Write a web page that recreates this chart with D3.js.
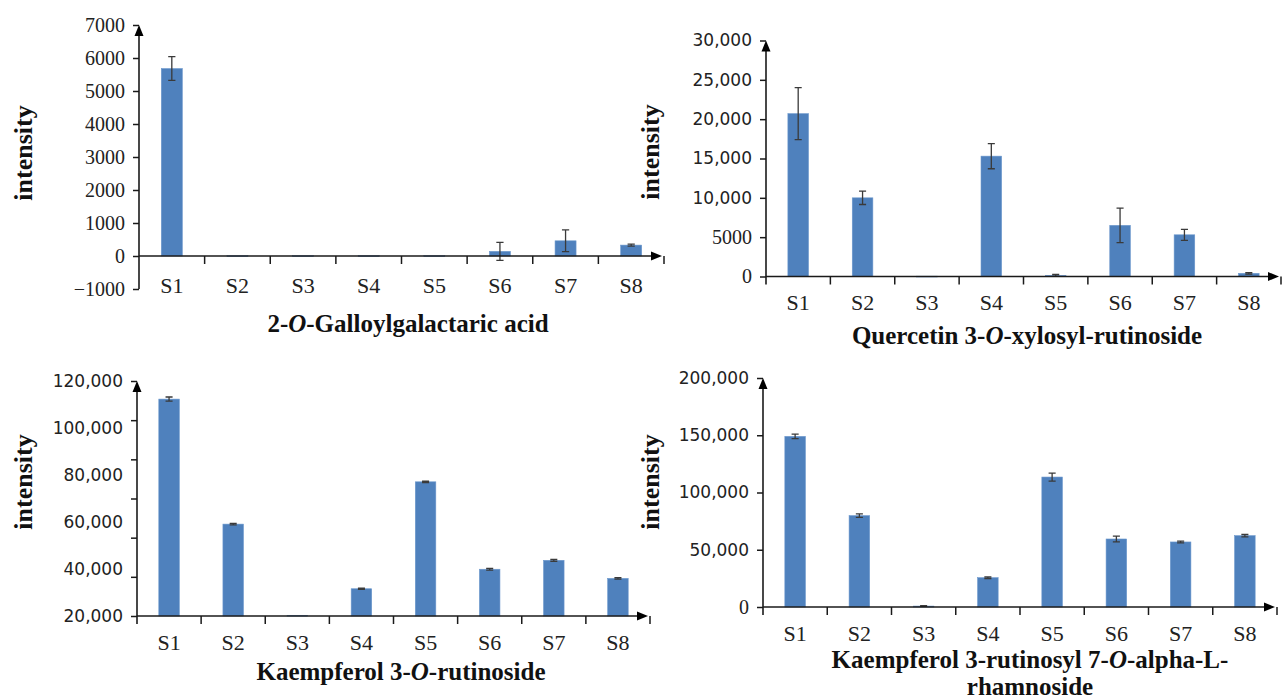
<!DOCTYPE html>
<html><head><meta charset="utf-8">
<script src="https://cdn.jsdelivr.net/npm/d3@7"></script>
<style>body{margin:0;background:#fff}svg{display:block}</style>
</head><body><svg id="c" width="1282" height="700"></svg>
<script>
// ---------- data ----------
const categories = ["S1","S2","S3","S4","S5","S6","S7","S8"];

const galloylMean = [5680, 10, 10, 10, 10, 140, 460, 330];
const galloylErr  = [360, 0, 0, 0, 0, 270, 330, 30];
const galloylTicks = [-1000, 0, 1000, 2000, 3000, 4000, 5000, 6000, 7000];

const quercetinMean = [20700, 10000, 40, 15300, 150, 6500, 5300, 400];
const quercetinErr  = [3300, 850, 0, 1600, 120, 2200, 700, 100];
const quercetinTicks = [0, 5000, 10000, 15000, 20000, 25000, 30000];

const kaempRutMean = [112300, 59100, 20300, 31600, 77100, 39900, 43700, 36000];
const kaempRutErr  = [900, 300, 0, 300, 300, 400, 400, 300];
const kaempRutTicks = [20000, 40000, 60000, 80000, 100000, 120000];
const kaempRutTickMarks = [0, 20000, 40000, 60000, 80000, 100000, 120000];

const kaempRhaMean = [149000, 79800, 800, 25600, 113500, 59400, 56800, 62300];
const kaempRhaErr  = [2000, 1500, 300, 700, 3500, 2500, 800, 1000];
const kaempRhaTicks = [0, 50000, 100000, 150000, 200000];

const titleGalloyl   = [["2-", "O", "-Galloylgalactaric acid"]];
const titleQuercetin = [["Quercetin 3-", "O", "-xylosyl-rutinoside"]];
const titleKaempRut  = [["Kaempferol 3-", "O", "-rutinoside"]];
const titleKaempRha  = [["Kaempferol 3-rutinosyl 7-", "O", "-alpha-L-"], ["rhamnoside"]];
const yAxisLabel = "intensity";

// ---------- layout ----------
const panels = [
  {mean: galloylMean, err: galloylErr, ticks: galloylTicks, dom: [-1000, 7000], rng: [289, 25],
   base: 0, x0: 139, x1: 664, title: titleGalloyl, tx: 408, ty: 332, lx: 32, ly: 153, xpad: 21},
  {mean: quercetinMean, err: quercetinErr, ticks: quercetinTicks, dom: [0, 30000], rng: [276.5, 40.5],
   base: 0, x0: 766, x1: 1281, title: titleQuercetin, tx: 1027, ty: 344, lx: 659, ly: 152, xpad: 18},
  {mean: kaempRutMean, err: kaempRutErr, ticks: kaempRutTicks, tickMarks: kaempRutTickMarks,
   dom: [20000, 120000], rng: [616, 381], markDom: [0, 120000],
   base: 20000, x0: 137, x1: 650, title: titleKaempRut, tx: 401, ty: 680, lx: 32, ly: 482, xpad: 18},
  {mean: kaempRhaMean, err: kaempRhaErr, ticks: kaempRhaTicks, dom: [0, 200000], rng: [607, 378],
   base: 0, x0: 763, x1: 1277, title: titleKaempRha, tx: 1030, ty: 668, lx: 659, ly: 482, xpad: 18}
];

const svg = d3.select("#c");
const INK = "#1a1a1a";
const BAR = "#4F81BD";
const SERIF = "'Liberation Serif','Times New Roman',serif";
const SANS = "'DejaVu Sans',Verdana,sans-serif";
const fmt = v => Math.abs(v) >= 10000 ? d3.format(",")(v) : (v < 0 ? "\u2212" + Math.abs(v) : String(v));

panels.forEach(p => {
  const g = svg.append("g");
  const y = d3.scaleLinear().domain(p.dom).range(p.rng);
  const xOuter = d3.scaleBand().domain(categories).range([p.x0, p.x1]).padding(0);
  const x = d3.scaleBand().domain(categories).range([p.x0, p.x1]).paddingInner(0.68).paddingOuter(0.34);
  const yBase = y(p.base);
  const yTop = p.rng[1];
  const yBottom = p.rng[0];

  // bars
  g.selectAll("rect.bar").data(categories).join("rect")
    .attr("class", "bar")
    .attr("x", d => x(d)).attr("width", x.bandwidth())
    .attr("y", (d, i) => Math.min(y(p.mean[i]), yBase))
    .attr("height", (d, i) => Math.max(0.8, Math.abs(yBase - y(p.mean[i]))))
    .attr("fill", BAR).attr("stroke", "#6b97cc").attr("stroke-width", 0.6);

  // error bars
  const cap = xOuter.bandwidth() * 0.055;
  categories.forEach((c, i) => {
    const e = p.err[i];
    if (!e) return;
    const cx = x(c) + x.bandwidth() / 2;
    const hi = y(p.mean[i] + e), lo = y(p.mean[i] - e);
    const path = d3.path();
    path.moveTo(cx, hi); path.lineTo(cx, lo);
    path.moveTo(cx - cap, hi); path.lineTo(cx + cap, hi);
    path.moveTo(cx - cap, lo); path.lineTo(cx + cap, lo);
    g.append("path").attr("d", path.toString()).attr("stroke", "#3a3a3a")
      .attr("stroke-width", 1.3).attr("fill", "none");
  });

  const styleLabels = a => a.selectAll("text").attr("fill", "#222")
    .style("font-family", d => fmt(d).includes(",") ? SANS : SERIF)
    .style("font-size", d => fmt(d).includes(",") ? "17px" : "20px");

  // y axis tick marks + labels
  if (p.tickMarks) {
    const yMark = d3.scaleLinear().domain(p.markDom).range(p.rng);
    g.append("g").attr("transform", `translate(${p.x0},0)`)
      .call(d3.axisLeft(yMark).tickValues(p.tickMarks).tickSize(6).tickFormat(""))
      .call(a => a.select(".domain").remove())
      .call(a => a.selectAll("line").attr("stroke", INK).attr("stroke-width", 1.5));
    g.append("g").attr("transform", `translate(${p.x0},0)`)
      .call(d3.axisLeft(y).tickValues(p.ticks).tickSize(0).tickPadding(14).tickFormat(fmt))
      .call(a => a.select(".domain").remove())
      .call(styleLabels);
  } else {
    g.append("g").attr("transform", `translate(${p.x0},0)`)
      .call(d3.axisLeft(y).tickValues(p.ticks).tickSize(6).tickPadding(8).tickFormat(fmt))
      .call(a => a.select(".domain").remove())
      .call(a => a.selectAll("line").attr("stroke", INK).attr("stroke-width", 1.5))
      .call(styleLabels);
  }

  // y axis line with arrow
  g.append("line").attr("x1", p.x0).attr("x2", p.x0).attr("y1", yBottom + (p.base === p.dom[0] ? 8 : 0)).attr("y2", yTop + 6)
    .attr("stroke", INK).attr("stroke-width", 1.6);
  g.append("path").attr("d", `M${p.x0},${yTop}L${p.x0 - 4.5},${yTop + 11}L${p.x0 + 4.5},${yTop + 11}Z`).attr("fill", "#000");

  // x axis line with arrow
  g.append("line").attr("x1", p.x0).attr("x2", p.x1 - 8).attr("y1", yBase).attr("y2", yBase)
    .attr("stroke", INK).attr("stroke-width", 1.6);
  g.append("path").attr("d", `M${p.x1 - 2},${yBase}L${p.x1 - 13},${yBase - 4.5}L${p.x1 - 13},${yBase + 4.5}Z`).attr("fill", "#000");

  // x boundary ticks
  const bounds = categories.map(c => xOuter(c)).concat([p.x1]);
  g.selectAll("line.xt").data(bounds.slice(1)).join("line").attr("class", "xt")
    .attr("x1", d => d).attr("x2", d => d).attr("y1", yBase).attr("y2", yBase + 8)
    .attr("stroke", INK).attr("stroke-width", 1.5);

  // x labels
  g.append("g").attr("transform", `translate(0,${yBase})`)
    .call(d3.axisBottom(xOuter).tickSize(0).tickPadding(p.xpad))
    .call(a => a.select(".domain").remove())
    .call(a => a.selectAll("text").attr("fill", "#222").style("font-family", SERIF).style("font-size", "22px"));

  // title
  p.title.forEach((parts, li) => {
    const t = g.append("text").attr("x", p.tx).attr("y", p.ty + li * 27)
      .attr("text-anchor", "middle").style("font-family", SERIF).style("font-size", "25px")
      .style("font-weight", "bold").attr("fill", "#111");
    parts.forEach((s, k) => t.append("tspan").text(s).style("font-style", k % 2 ? "italic" : "normal"));
  });

  // y label
  g.append("text").attr("transform", `translate(${p.lx},${p.ly}) rotate(-90)`)
    .attr("text-anchor", "middle").style("font-family", SERIF).style("font-size", "26px")
    .style("font-weight", "bold").attr("fill", "#111").text(yAxisLabel);
});
</script></body></html>
